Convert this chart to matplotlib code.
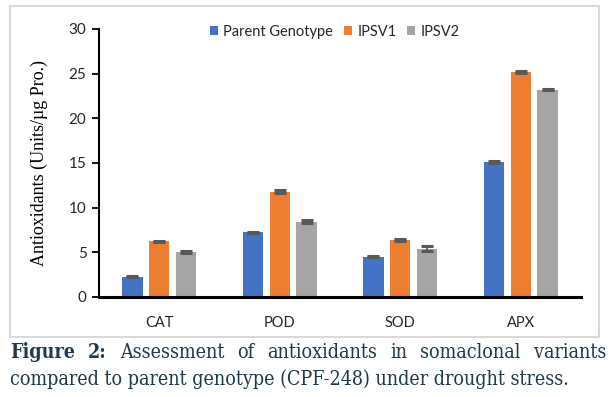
import matplotlib
matplotlib.use("Agg")
import matplotlib.pyplot as plt
import numpy as np
from matplotlib.patches import Rectangle
from matplotlib import font_manager as fm

categories = ["CAT", "POD", "SOD", "APX"]
series_names = ["Parent Genotype", "IPSV1", "IPSV2"]
parent = [2.25, 7.25, 4.5, 15.1]
ipsv1 = [6.25, 11.8, 6.4, 25.2]
ipsv2 = [5.05, 8.45, 5.4, 23.2]
parent_err = [0.06, 0.08, 0.06, 0.08]
ipsv1_err = [0.06, 0.2, 0.08, 0.1]
ipsv2_err = [0.08, 0.2, 0.3, 0.08]
yticks = [0, 5, 10, 15, 20, 25, 30]
colors = ["#4472C4", "#ED7D31", "#A5A5A5"]

W, H = 615, 397
fig = plt.figure(figsize=(W / 100, H / 100), dpi=100)

# chart frame
fig.patches.append(Rectangle((10 / W, 1 - 337 / H), (599 - 10) / W, (337 - 6) / H,
                             transform=fig.transFigure, fill=False,
                             edgecolor="#d9d9d9", linewidth=1.5))

ax = fig.add_axes([99 / W, 1 - 297 / H, (581 - 99) / W, (297 - 29) / H])
x = np.arange(len(categories))
bw = 0.168
step = 0.222
data = [parent, ipsv1, ipsv2]
errs = [parent_err, ipsv1_err, ipsv2_err]
for i, (vals, e, c, n) in enumerate(zip(data, errs, colors, series_names)):
    ax.bar(x + (i - 1) * step, vals, width=bw, color=c, label=n, zorder=2)
    ax.errorbar(x + (i - 1) * step, vals, yerr=e, fmt="none", ecolor="#595959",
                elinewidth=1.3, capsize=4, capthick=2.2, zorder=3)

ax.set_xlim(-0.5, len(categories) - 0.5)
ax.set_ylim(0, 30)
ax.set_yticks(yticks)
ax.set_xticks(x)
ax.set_xticklabels(categories, fontfamily="Lato", fontsize=10.5, color="#262626")
ax.tick_params(axis="x", length=0, pad=14)
ax.tick_params(axis="y", length=5, width=1.3, direction="out", pad=4,
               labelsize=11, colors="black")
for lab in ax.get_yticklabels():
    lab.set_fontfamily("Lato")
    lab.set_color("#262626")
for s in ["top", "right"]:
    ax.spines[s].set_visible(False)
ax.spines["left"].set_linewidth(1.5)
ax.spines["bottom"].set_linewidth(2.2)
ax.set_ylabel("Antioxidants (Units/\u00b5g Pro.)", fontfamily="Liberation Serif",
              fontsize=13, labelpad=15)

leg = fig.legend(loc="center", bbox_to_anchor=(335 / W, 1 - 32 / H), ncol=3,
                 frameon=False, prop={"family": "Lato", "size": 10.5},
                 handlelength=0.55, handleheight=0.55, handletextpad=0.35,
                 columnspacing=0.75)
for t in leg.get_texts():
    t.set_color("#262626")

# caption
cap_color = "#1f3a4a"
serif = "DejaVu Serif"
stretch = "condensed"
renderer = fig.canvas.get_renderer()
line2 = "compared to parent genotype (CPF-248) under drought stress."
probe = fig.text(0, 0, line2, fontfamily=serif, fontstretch=stretch, fontsize=10)
pw = probe.get_window_extent(renderer).width
probe.remove()
fs = 10 * 558 / pw

line1_words = [("Figure", True), ("2:", True), ("Assessment", False), ("of", False),
               ("antioxidants", False), ("in", False), ("somaclonal", False), ("variants", False)]
x0, x1 = 10, 606
y1 = 1 - 352 / H
texts = []
widths = []
for w, b in line1_words:
    t = fig.text(0, y1, w, fontfamily=serif, fontstretch=stretch, fontsize=fs, color=cap_color,
                 fontweight="bold" if b else "normal", va="center", ha="left")
    texts.append(t)
    widths.append(t.get_window_extent(renderer).width)
gap = (x1 - x0 - sum(widths)) / (len(widths) - 1)
cur = x0
for t, wd in zip(texts, widths):
    t.set_x(cur / W)
    cur += wd + gap
fig.text(x0 / W, 1 - 379 / H, line2, fontstretch=stretch,
         fontfamily=serif, fontsize=fs, color=cap_color, va="center", ha="left")

fig.savefig("out.png", dpi=100)
